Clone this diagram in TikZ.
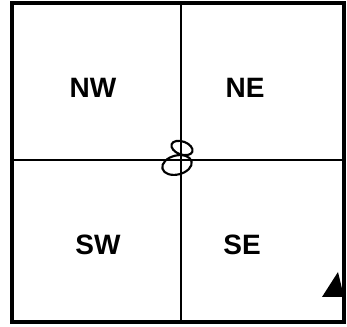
\documentclass[tikz,border=0pt]{standalone}
\usepackage{fontspec}
\setmainfont{Liberation Sans}
\usetikzlibrary{positioning}

\begin{document}
\begin{tikzpicture}[
    x=0.75pt, y=-0.75pt,
    frame/.style={draw, line width=2.6pt},
    divider/.style={draw, line width=0.9pt},
    quadrant/.style={font=\bfseries\fontsize{21}{21}\selectfont, inner sep=0pt},
    scrawl/.style={draw, line width=1.6pt},
    marker/.style={fill=black}
]
\useasboundingbox (0,0) rectangle (347,327);

% Outer square
\coordinate (tl) at (12,3);
\coordinate (br) at (344,322);
\draw[frame] (tl) rectangle (br);

% Dividers
\coordinate (top) at (181,3);
\coordinate (bottom) at (181,322);
\coordinate (left) at (12,160);
\coordinate (right) at (344,160);
\draw[divider] (top) -- (bottom);
\draw[divider] (left) -- (right);

% Quadrant labels
\node[quadrant] (nw) at (93,88) {NW};
\node[quadrant] (ne) at (245,88) {NE};
\node[quadrant] (sw) at (98,245) {SW};
\node[quadrant] (se) at (242,245) {SE};

% Handwritten mark at the centre
\draw[scrawl, rotate around={-20:(182,148)}] (182,148) ellipse (11 and 6.5);
\draw[scrawl, rotate around={14:(177,165)}] (177,165) ellipse (15 and 9.5);

% Corner marker
\coordinate (m1) at (322,297);
\coordinate (m2) at (338,272);
\coordinate (m3) at (344,297);
\fill[marker] (m1) -- (m2) -- (m3) -- cycle;

\end{tikzpicture}
\end{document}
